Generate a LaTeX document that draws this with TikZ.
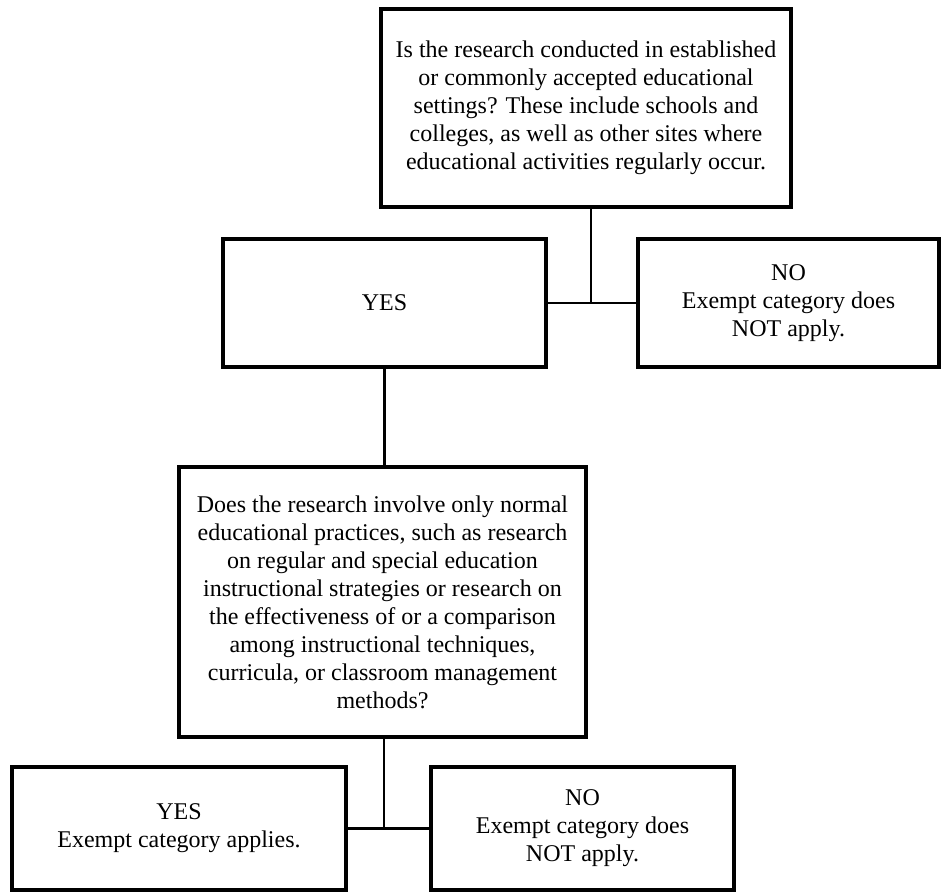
\documentclass[tikz,border=0pt]{standalone}
\usepackage{fontspec}
\setmainfont{Liberation Serif}
\begin{document}
\begin{tikzpicture}[x=1pt,y=-1pt,
  box/.style={draw=black, line width=3.6pt, rectangle, inner sep=0pt, align=center,
    font=\fontsize{24}{28}\selectfont},
  link/.style={draw=black, line width=2.6pt}]
\useasboundingbox[fill=white] (0,0) rectangle (942,894);
\node[box, minimum width=410pt, minimum height=198pt] (top) at (586,108)
  {Is the research conducted in established\\or commonly accepted educational\\settings? These include schools and\\colleges, as well as other sites where\\educational activities regularly occur.};
\node[box, minimum width=323pt, minimum height=128pt] (yes1) at (384.5,303) {YES};
\node[box, minimum width=301pt, minimum height=128pt] (no1) at (788.5,303)
  {NO\\Exempt category does\\NOT apply.};
\node[box, minimum width=407pt, minimum height=270pt] (q2) at (382.5,602)
  {Does the research involve only normal\\educational practices, such as research\\on regular and special education\\instructional strategies or research on\\the effectiveness of or a comparison\\among instructional techniques,\\curricula, or classroom management\\methods?};
\node[box, minimum width=334pt, minimum height=123pt] (yes2) at (179,828.5)
  {YES\\Exempt category applies.};
\node[box, minimum width=303pt, minimum height=123pt] (no2) at (582.5,828.5)
  {NO\\Exempt category does\\NOT apply.};
\coordinate (j1) at (591,303);
\coordinate (j2) at (384,828.5);
\draw[link] (top.south -| j1) -- (j1);
\draw[link] (yes1.east) -- (no1.west);
\draw[link] (yes1.south) -- (yes1.south |- q2.north);
\draw[link] (q2.south -| j2) -- (j2);
\draw[link] (yes2.east) -- (no2.west);
\end{tikzpicture}
\end{document}
